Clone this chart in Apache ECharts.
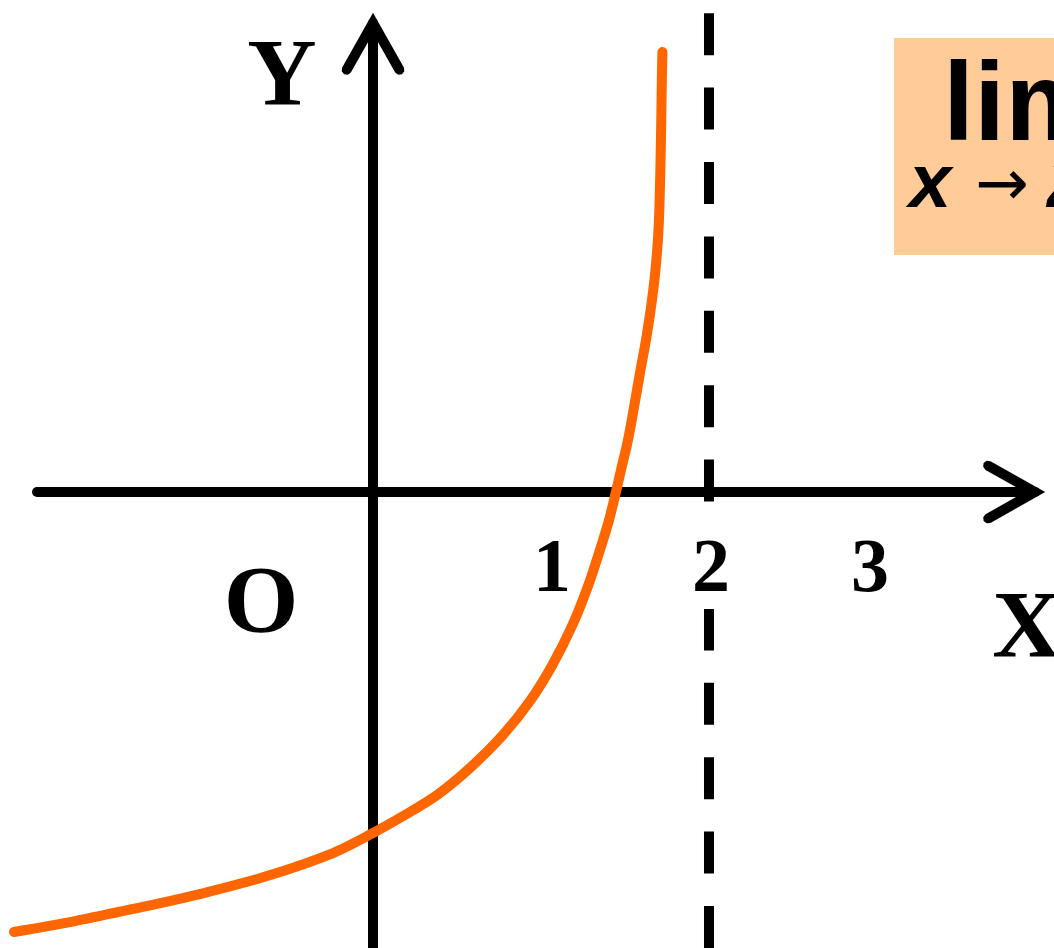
<!DOCTYPE html>
<html>
<head>
<meta charset="utf-8">
<script src="https://cdn.jsdelivr.net/npm/echarts@6/dist/echarts.min.js"></script>
<style>html,body{margin:0;padding:0;background:#fff}#c{width:1054px;height:948px}</style>
</head>
<body>
<div id="c"></div>
<script>
// ---- data ----
const curveX = [-2.137, -1.774, -1.429, -1.030, -0.631, -0.238, 0, 0.179, 0.381, 0.577, 0.774, 0.935, 1.071, 1.190, 1.280, 1.351, 1.405, 1.446, 1.482, 1.518, 1.554, 1.589, 1.625, 1.655, 1.679, 1.696, 1.705, 1.714, 1.720, 1.723];
const curveY = [-2.619, -2.554, -2.482, -2.393, -2.286, -2.149, -2.030, -1.929, -1.804, -1.643, -1.446, -1.244, -1.024, -0.786, -0.560, -0.345, -0.167, 0, 0.155, 0.310, 0.506, 0.708, 0.905, 1.101, 1.298, 1.500, 1.696, 2.095, 2.494, 2.619];
const asymptoteX = 2;
const tickValues = [1, 2, 3];
const tickLabels = ['1', '2', '3'];
const axisNames = { x: 'X', y: 'Y', origin: 'O' };
const limText = 'lim';
const limSub = ['x', '→', '2'];

// ---- layout / style ----
// grid 0: the two arrowed axes; grid 1: same scale, full canvas, for the marks
const AX = { xMin: -2, xMax: 3.94, yMin: -2.7143, yMax: 2.792 };
const FULL = { xMin: -2.2202, xMax: 4.0536, yMin: -2.7143, yMax: 2.9286 };
const ASYM_TOP = 2.851;
const LABEL_NUDGE = [11, 2, -7];
const ARROW = 'path://M0 -10.18 L30.855 44.544 L31.316 48.343 L28.956 51.355 L25.157 51.816 L22.145 49.456 L0 10.18 L-22.145 49.456 L-25.157 51.816 L-28.956 51.355 L-31.316 48.343 L-30.855 44.544 Z';
const axisLineStyle = {
  show: true, onZero: true,
  symbol: ['none', ARROW], symbolSize: [62.63, 62.0], symbolOffset: [0, -20.82],
  lineStyle: { color: '#000', width: 10 }
};
const hiddenAxis = { axisLine: { show: false }, axisTick: { show: false }, axisLabel: { show: false }, splitLine: { show: false } };
const serif = '"Liberation Serif", "Times New Roman", serif';
const sans = '"Liberation Sans", Arial, sans-serif';

const chart = echarts.init(document.getElementById('c'), null, { renderer: 'canvas' });
chart.setOption({
  animation: false,
  backgroundColor: '#fff',
  grid: [
    { left: 37, right: 19, top: 23, bottom: 0, containLabel: false },
    { left: 0, right: 0, top: 0, bottom: 0, containLabel: false }
  ],
  xAxis: [
    { type: 'value', gridIndex: 0, min: AX.xMin, max: AX.xMax, axisLine: axisLineStyle, axisTick: { show: false }, axisLabel: { show: false }, splitLine: { show: false } },
    Object.assign({ type: 'value', gridIndex: 1, min: FULL.xMin, max: FULL.xMax }, hiddenAxis)
  ],
  yAxis: [
    { type: 'value', gridIndex: 0, min: AX.yMin, max: AX.yMax, axisLine: axisLineStyle, axisTick: { show: false }, axisLabel: { show: false }, splitLine: { show: false } },
    Object.assign({ type: 'value', gridIndex: 1, min: FULL.yMin, max: FULL.yMax }, hiddenAxis)
  ],
  series: [
    {
      type: 'line', name: 'asymptote', xAxisIndex: 1, yAxisIndex: 1, symbol: 'none', silent: true, z: 1,
      data: [[asymptoteX, FULL.yMin], [asymptoteX, ASYM_TOP]],
      lineStyle: { color: '#000', width: 10, type: [42, 32.4] }
    },
    {
      type: 'scatter', name: 'ticks', xAxisIndex: 1, yAxisIndex: 1, silent: true, symbolSize: 1, z: 2,
      itemStyle: { color: 'rgba(0,0,0,0)', opacity: 1 },
      data: tickValues.map((v, i) => ({ value: [v, 0], label: { offset: [LABEL_NUDGE[i], 79] } })),
      label: {
        show: true, position: 'inside', opacity: 1,
        formatter: p => tickLabels[p.dataIndex],
        fontFamily: serif, fontWeight: 'bold', fontSize: 76, lineHeight: 76, color: '#000',
        backgroundColor: '#fff', padding: 0
      }
    },
    {
      type: 'line', name: 'curve', xAxisIndex: 1, yAxisIndex: 1, symbol: 'none', silent: true, smooth: 0.3, z: 3,
      data: curveX.map((x, i) => [x, curveY[i]]),
      lineStyle: { color: '#FF6600', width: 10, cap: 'round', join: 'round' }
    }
  ],
  graphic: [
    { type: 'text', z: 10, style: { text: axisNames.y, x: 282, y: 80, align: 'center', verticalAlign: 'middle', font: 'bold 96px ' + serif, fill: '#000' } },
    { type: 'text', z: 10, style: { text: axisNames.origin, x: 261, y: 607, align: 'center', verticalAlign: 'middle', font: 'bold 96px ' + serif, fill: '#000' } },
    { type: 'text', z: 10, style: { text: axisNames.x, x: 1027, y: 632, align: 'center', verticalAlign: 'middle', font: 'bold 96px ' + serif, fill: '#000' } },
    { type: 'rect', z: 10, shape: { x: 894, y: 38, width: 200, height: 217 }, style: { fill: '#FFCC99' } },
    { type: 'text', z: 11, style: { text: limText, x: 943, y: 109, align: 'left', verticalAlign: 'middle', font: 'bold 112px ' + sans, fill: '#000' } },
    { type: 'text', z: 11, style: { text: limSub[0], x: 909, y: 186, align: 'left', verticalAlign: 'middle', font: 'italic bold 76px ' + sans, fill: '#000' } },
    { type: 'text', z: 11, style: { text: limSub[1], x: 975, y: 188, align: 'left', verticalAlign: 'middle', font: '64px "DejaVu Sans", sans-serif', fill: '#000' } },
    { type: 'text', z: 11, style: { text: limSub[2], x: 1047, y: 186, align: 'left', verticalAlign: 'middle', font: 'italic bold 76px ' + sans, fill: '#000' } }
  ]
});
</script>
</body>
</html>
